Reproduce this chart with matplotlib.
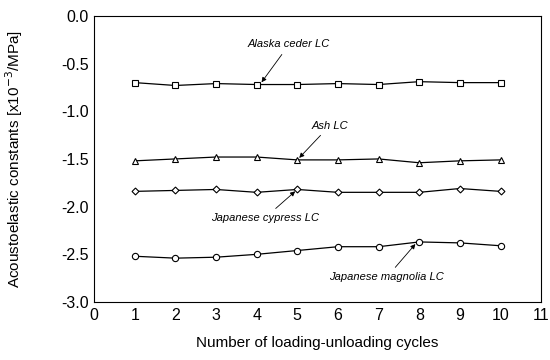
import matplotlib.pyplot as plt

plt.rcParams['font.family'] = ['Liberation Sans', 'DejaVu Sans']

cycles = [1, 2, 3, 4, 5, 6, 7, 8, 9, 10]
alaska = [-0.70, -0.73, -0.71, -0.72, -0.72, -0.71, -0.72, -0.69, -0.70, -0.70]
ash = [-1.52, -1.50, -1.48, -1.48, -1.51, -1.51, -1.50, -1.54, -1.52, -1.51]
cypress = [-1.84, -1.83, -1.82, -1.85, -1.82, -1.85, -1.85, -1.85, -1.81, -1.84]
magnolia = [-2.52, -2.54, -2.53, -2.50, -2.46, -2.42, -2.42, -2.37, -2.38, -2.41]

xticks = list(range(0, 12))
yticks = [0.0, -0.5, -1.0, -1.5, -2.0, -2.5, -3.0]
ytick_labels = ['0.0', '-0.5', '-1.0', '-1.5', '-2.0', '-2.5', '-3.0']

fig = plt.figure(figsize=(5.5, 3.6), dpi=100)
ax = fig.add_axes([0.171, 0.161, 0.813, 0.795])

style = dict(color='black', lw=0.9, mfc='white', mec='black', mew=0.8)
ax.plot(cycles, alaska, marker='s', ms=4.5, **style)
ax.plot(cycles, ash, marker='^', ms=4.5, **style)
ax.plot(cycles, cypress, marker='D', ms=3.5, **style)
ax.plot(cycles, magnolia, marker='o', ms=4.5, **style)

ax.set_xlim(0, 11)
ax.set_ylim(-3.0, 0.0)
ax.set_xticks(xticks)
ax.set_yticks(yticks)
ax.set_yticklabels(ytick_labels)
ax.tick_params(length=0, labelsize=11.5, pad=4)

ax.set_xlabel('Number of loading-unloading cycles', fontsize=11, labelpad=10)
ax.set_ylabel('Acoustoelastic constants [x10$^{-3}$/MPa]', fontsize=11, labelpad=26)

arrow = dict(arrowstyle='-|>', color='black', lw=0.6, mutation_scale=7)
txt = dict(fontsize=8, style='italic', ha='center', va='center')
ax.annotate('Alaska ceder LC', xy=(4.08, alaska[3]), xytext=(4.8, -0.3),
            arrowprops=arrow, **txt)
ax.annotate('Ash LC', xy=(5.0, ash[4]), xytext=(5.8, -1.15),
            arrowprops=arrow, **txt)
ax.annotate('Japanese cypress LC', xy=(5.0, cypress[4]), xytext=(4.2, -2.12),
            arrowprops=arrow, **txt)
ax.annotate('Japanese magnolia LC', xy=(7.95, magnolia[7]), xytext=(7.2, -2.74),
            arrowprops=arrow, **txt)

fig.savefig('out.png', dpi=100)
